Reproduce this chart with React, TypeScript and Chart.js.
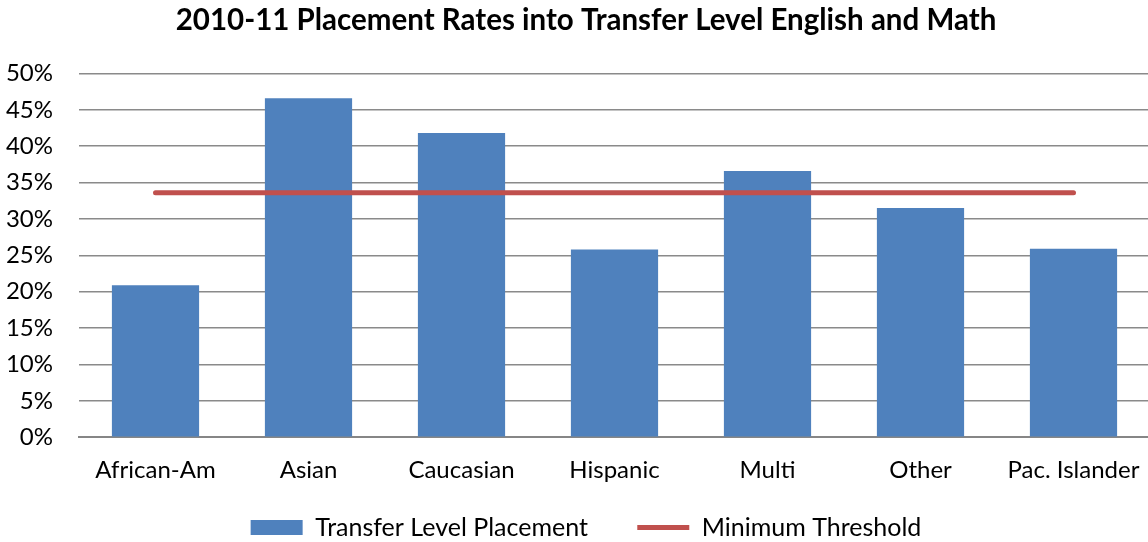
import React, { useEffect, useRef } from "react";
import { Chart, registerables } from "chart.js";

Chart.register(...registerables);

const categories = ["African-Am", "Asian", "Caucasian", "Hispanic", "Multi", "Other", "Pac. Islander"];
const placementRates = [20.9, 46.6, 41.8, 25.8, 36.6, 31.5, 25.9];
const minimumThreshold = [33.6, 33.6, 33.6, 33.6, 33.6, 33.6, 33.6];
const seriesNames = ["Transfer Level Placement", "Minimum Threshold"];
const titleText = "2010-11 Placement Rates into Transfer Level English and Math";

const FONT = "Lato, 'Noto Sans', sans-serif";

const unclipYLabels = {
  id: "unclipYLabels",
  afterLayout(c: any) {
    if (c.scales && c.scales.y) c.scales.y.left = 0;
  },
};

export default function App() {
  const ref = useRef<HTMLCanvasElement | null>(null);

  useEffect(() => {
    if (!ref.current) return;
    const chart = new Chart(ref.current, {
      type: "bar",
      data: {
        labels: categories,
        datasets: [
          {
            type: "bar",
            label: seriesNames[0],
            data: placementRates,
            backgroundColor: "#4F81BD",
            borderWidth: 0,
            barPercentage: 0.57,
            categoryPercentage: 1,
            order: 1,
            pointStyle: "rect",
          } as any,
          {
            type: "line",
            label: seriesNames[1],
            data: minimumThreshold,
            borderColor: "#C0504D",
            backgroundColor: "#C0504D",
            borderWidth: 5,
            borderCapStyle: "round",
            pointRadius: 0,
            pointHoverRadius: 0,
            order: 0,
            pointStyle: "line",
          } as any,
        ],
      },
      plugins: [unclipYLabels],
      options: {
        responsive: false,
        animation: false,
        layout: { padding: { left: 22, right: 22, top: 0, bottom: -8 } },
        plugins: {
          title: {
            display: true,
            text: titleText,
            color: "#000",
            font: { family: FONT, size: 29.5, weight: "bold" },
            padding: { top: 3, bottom: 35 },
          },
          legend: {
            position: "bottom",
            labels: {
              color: "#000",
              font: { family: FONT, size: 25 },
              usePointStyle: true,
              pointStyleWidth: 52,
              boxHeight: 15,
              padding: 11,
              sort: (a: any, b: any) => a.datasetIndex - b.datasetIndex,
              generateLabels: (c: any) => {
                const items = Chart.defaults.plugins.legend.labels.generateLabels(c);
                return items.map((it: any) =>
                  it.datasetIndex === 0 ? { ...it, text: it.text + "      " } : it
                );
              },
            },
          },
          tooltip: { enabled: false },
        },
        scales: {
          x: {
            grid: { display: false, drawTicks: false },
            border: { display: true, color: "#868686", width: 2 },
            ticks: { color: "#000", font: { family: FONT, size: 24 }, padding: 19, maxRotation: 0 },
          },
          y: {
            min: 0,
            max: 50,
            grid: { color: "#8a8a8a", lineWidth: 1.5, drawTicks: false },
            border: { display: false },
            afterFit: (scale: any) => {
              scale.width = 57;
            },
            ticks: {
              stepSize: 5,
              color: "#000",
              font: { family: FONT, size: 24 },
              padding: 26,
              callback: (v: any) => v + "%",
            },
          },
        },
      },
    });
    return () => chart.destroy();
  }, []);

  return (
    <div style={{ position: "absolute", left: 0, top: 0, width: 1148, height: 542, overflow: "hidden", background: "#fff" }}>
      <canvas ref={ref} width={1172} height={542} style={{ display: "block" }} />
    </div>
  );
}
